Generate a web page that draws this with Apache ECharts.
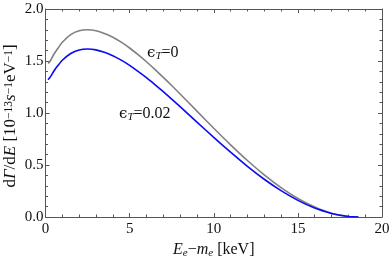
<!DOCTYPE html>
<html><head><meta charset="utf-8">
<script src="https://cdn.jsdelivr.net/npm/echarts@6/dist/echarts.min.js"></script>
<style>html,body{margin:0;padding:0;background:#fff}#c{width:390px;height:260px}</style>
</head><body><div id="c"></div>
<script>
const energy = [0.15, 0.3, 0.5, 0.75, 1, 1.5, 2, 2.5, 3, 3.5, 4, 4.5, 5, 5.5, 6, 6.5, 7, 7.5, 8, 9, 10, 11, 12, 13, 14, 15, 16, 17, 17.5, 18, 18.3, 18.6];
const rateEps0 = [1.475, 1.505, 1.565, 1.625, 1.68, 1.753, 1.79, 1.80, 1.791, 1.765, 1.729, 1.681, 1.625, 1.561, 1.493, 1.419, 1.343, 1.264, 1.183, 1.018, 0.853, 0.694, 0.543, 0.405, 0.282, 0.178, 0.096, 0.037, 0.018, 0.0054, 0.0014, 0];
const rateEps002 = [1.32, 1.35, 1.404, 1.458, 1.507, 1.572, 1.606, 1.615, 1.607, 1.583, 1.551, 1.508, 1.458, 1.400, 1.339, 1.273, 1.205, 1.134, 1.062, 0.913, 0.765, 0.623, 0.487, 0.363, 0.253, 0.160, 0.086, 0.033, 0.016, 0.0048, 0.0012, 0];
const xTicks = [0, 5, 10, 15, 20];
const yTicks = [0.0, 0.5, 1.0, 1.5, 2.0];

const serif = "'Liberation Serif', 'DejaVu Serif', serif";
const axisCol = '#555';
const txt = '#111';
const FS = 15;
const toPairs = (xs, ys) => xs.map((x, i) => [x, ys[i]]);

function xAxis(pos, labels) {
  return {
    type: 'value', position: pos, min: xTicks[0], max: xTicks[xTicks.length - 1], interval: 5,
    axisLine: { show: true, onZero: false, lineStyle: { color: axisCol, width: 1 } },
    axisTick: { show: true, inside: true, length: 4, lineStyle: { color: axisCol } },
    minorTick: { show: true, splitNumber: 5, length: 2.5, lineStyle: { color: axisCol } },
    splitLine: { show: false },
    axisLabel: { show: labels, color: txt, fontFamily: serif, fontSize: FS, margin: 5 }
  };
}
function yAxis(pos, labels) {
  return {
    type: 'value', position: pos, min: yTicks[0], max: yTicks[yTicks.length - 1], interval: 0.5,
    axisLine: { show: true, onZero: false, lineStyle: { color: axisCol, width: 1 } },
    axisTick: { show: true, inside: true, length: 4, lineStyle: { color: axisCol } },
    minorTick: { show: true, splitNumber: 5, length: 2.5, lineStyle: { color: axisCol } },
    splitLine: { show: false },
    axisLabel: { show: labels, color: txt, fontFamily: serif, fontSize: FS, margin: 2,
      formatter: v => v.toFixed(1) }
  };
}

const xa = [xAxis('bottom', true), xAxis('top', false)];
xa[0].name = '{i|E}{s|e}{n|−}{i|m}{s|e}{n| [keV]}';
xa[0].nameLocation = 'middle';
xa[0].nameGap = 24;
xa[0].nameTextStyle = { fontFamily: serif, fontSize: 16, color: txt, rich: {
  i: { fontFamily: serif, fontStyle: 'italic', fontSize: 16, color: txt },
  s: { fontFamily: serif, fontStyle: 'italic', fontSize: 11, color: txt, verticalAlign: 'bottom', padding: [6, 0, 0, 0] },
  n: { fontFamily: serif, fontSize: 16, color: txt } } };

const ya = [yAxis('left', true), yAxis('right', false)];

const yNameRich = {
  i: { fontFamily: serif, fontStyle: 'italic', fontSize: 17, fill: txt, lineHeight: 16 },
  u: { fontFamily: serif, fontSize: 11.5, fill: txt, verticalAlign: 'top', lineHeight: 16, padding: [0, 0, 4, 0] },
  n: { fontFamily: serif, fontSize: 17, fill: txt, lineHeight: 16 }
};

const labelRich = {
  e: { fontFamily: "'DejaVu Serif', serif", fontSize: 15, fill: txt },
  s: { fontFamily: serif, fontStyle: 'italic', fontSize: 11, fill: txt, verticalAlign: 'bottom', padding: [6, 0, 0, 0] },
  n: { fontFamily: serif, fontSize: 16, fill: txt }
};

const chart = echarts.init(document.getElementById('c'), null, { renderer: 'canvas' });
chart.setOption({
  animation: false,
  backgroundColor: '#fff',
  grid: { left: 45.5, right: 8, top: 9, bottom: 43, containLabel: false, outerBoundsMode: 'none' },
  xAxis: xa,
  yAxis: ya,
  series: [
    { type: 'line', name: 'eps0', data: toPairs(energy, rateEps0), showSymbol: false, smooth: 0.2,
      lineStyle: { color: '#808080', width: 1.6 }, z: 3 },
    { type: 'line', name: 'eps002', data: toPairs(energy, rateEps002), showSymbol: false, smooth: 0.2,
      lineStyle: { color: '#0a0af5', width: 1.6 }, z: 4 }
  ],
  graphic: [
    { type: 'text', x: 11, y: 116, rotation: Math.PI / 2, style: {
      text: '{n|d}{i|Γ}{n|/d}{i|E}{n| [10}{u|−13}{i|s}{u|−1}{n|eV}{u|−1}{n|]}',
      align: 'center', verticalAlign: 'middle', rich: yNameRich } },
    { type: 'text', left: 147, top: 45, style: { text: '{e|ϵ}{s|T}{n|=0}', rich: labelRich } },
    { type: 'text', left: 119, top: 106, style: { text: '{e|ϵ}{s|T}{n|=0.02}', rich: labelRich } }
  ]
});
</script></body></html>
